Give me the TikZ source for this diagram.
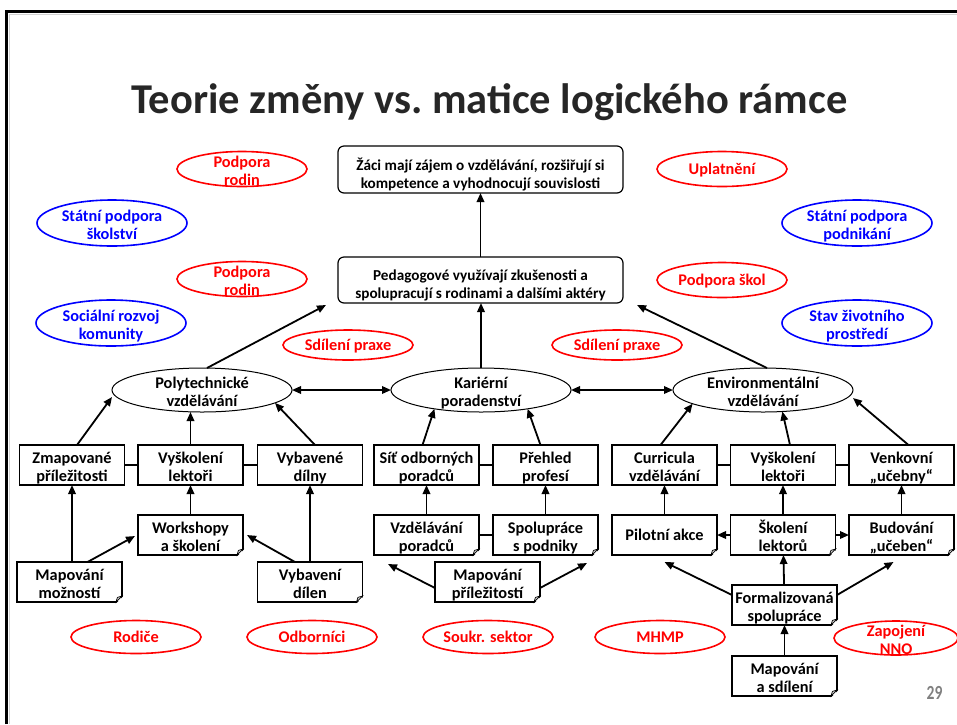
\documentclass[tikz,border=0pt]{standalone}
\usepackage{fontspec}
\setmainfont{Carlito}
\usetikzlibrary{shapes.geometric,arrows.meta}
\definecolor{accred}{RGB}{255,0,0}
\definecolor{accblue}{RGB}{0,0,255}
\definecolor{titlegray}{RGB}{38,38,38}
\definecolor{numgray}{RGB}{128,128,128}

% two-line texts sit on the baseline of their last line,
% so the box height is counted from there
\tikzset{
  txt/.style={font=\fontsize{16.3}{18.3}\selectfont\bfseries, align=center},
  one/.style={text height=12pt, text depth=0.5pt},
  two/.style={text height=36.6pt, text depth=3pt},
  box/.style={txt, two, draw, line width=1.2pt, rectangle, minimum width=105pt,
    minimum height=40pt, inner sep=0pt, outer sep=0pt},
  goalbox/.style={txt, font=\fontsize{15.2}{18.3}\selectfont\bfseries, text height=40.6pt, text depth=3pt,
    draw, line width=1.2pt, rounded corners=6pt, minimum width=285pt, minimum height=47pt,
    inner sep=0pt, outer sep=0pt},
  oval/.style={ellipse, draw, inner sep=0pt, outer sep=0pt},
  redoval/.style={oval, draw=accred, line width=1.6pt, minimum width=130pt, minimum height=35pt},
  blueoval/.style={oval, draw=accblue, line width=1.6pt, minimum width=150pt, minimum height=46pt},
  blackoval/.style={oval, draw=black, line width=1pt, minimum width=180pt, minimum height=44pt},
  redtxt/.style={txt, text=accred},
  bluetxt/.style={txt, two, text=accblue},
  arr/.style={-{Triangle[length=9pt,width=7.5pt]}, line width=1.8pt},
  dblarr/.style={{Triangle[length=9pt,width=7.5pt]}-{Triangle[length=9pt,width=7.5pt]}, line width=1.8pt},
  link/.style={line width=1.2pt},
}

\begin{document}
\begin{tikzpicture}[x=1pt,y=-1pt]
\useasboundingbox (0,0) rectangle (957,724);

% slide frame
\draw[gray!35, line width=1pt] (9.2,724) -- (9.2,14) -- (957,14);
\draw[line width=3.6pt] (6.6,724) -- (6.6,11.5) -- (957,11.5);

% title
\node[font=\fontsize{42.5}{50}\selectfont\bfseries, text=titlegray] (title) at (489.5,102) {Teorie změny vs.\ matice logického rámce};

% outcome boxes
\node[goalbox] (goal) at (480.5,169.5) {Žáci mají zájem o vzdělávání, rozšiřují si\\kompetence a vyhodnocují souvislosti};
\node[goalbox, minimum height=46pt] (ped) at (480.5,280) {Pedagogové využívají zkušenosti a\\spolupracují s rodinami a dalšími aktéry};

% external factors
\node[redoval, label={[redtxt,two]center:Podpora\\rodin}] (podr1) at (242,169) {};
\node[redoval, label={[redtxt,one]center:Uplatnění}] (upl) at (722,169) {};
\node[redoval, label={[redtxt,two]center:Podpora\\rodin}] (podr2) at (242,279) {};
\node[redoval, label={[redtxt,one]center:Podpora škol}] (podsk) at (722,280) {};
\node[redoval, minimum height=30pt, label={[redtxt,one]center:Sdílení praxe}] (sdp1) at (348,345) {};
\node[redoval, minimum height=30pt, label={[redtxt,one]center:Sdílení praxe}] (sdp2) at (617,345) {};
\node[redoval, minimum height=33pt, label={[redtxt,one]center:Rodiče}] (rod) at (136,637) {};
\node[redoval, minimum height=33pt, label={[redtxt,one]center:Odborníci}] (odb) at (312,637) {};
\node[redoval, minimum height=33pt, label={[redtxt,one]center:Soukr. sektor}] (sou) at (488,637) {};
\node[redoval, minimum height=33pt, label={[redtxt,one]center:MHMP}] (mhmp) at (660,637) {};
\node[redoval, minimum width=124pt, minimum height=34pt, label={[redtxt,two]center:Zapojení\\NNO}] (nno) at (896,638) {};

\node[blueoval, label={[bluetxt]center:Státní podpora\\školství}] (stsk) at (112,223) {};
\node[blueoval, label={[bluetxt]center:Sociální rozvoj\\komunity}] (soc) at (111,323) {};
\node[blueoval, label={[bluetxt]center:Státní podpora\\podnikání}] (stpod) at (857,223) {};
\node[blueoval, label={[bluetxt]center:Stav životního\\prostředí}] (stav) at (857,323) {};

% programme areas
\node[blackoval, label={[txt,two]center:Polytechnické\\vzdělávání}] (poly) at (202,390) {};
\node[blackoval, label={[txt,two]center:Kariérní\\poradenství}] (kar) at (481,390) {};
\node[blackoval, label={[txt,two]center:Environmentální\\vzdělávání}] (env) at (763,390) {};

% outputs
\node[box] (zmap) at (72,465) {Zmapované\\příležitosti};
\node[box] (vysk1) at (190.5,465) {Vyškolení\\lektoři};
\node[box] (vybd1) at (310,465) {Vybavené\\dílny};
\node[box] (sit) at (426.5,465) {Síť odborných\\poradců};
\node[box] (preh) at (545.5,465) {Přehled\\profesí};
\node[box] (curr) at (664.5,465) {Curricula\\vzdělávání};
\node[box] (vysk2) at (783,465) {Vyškolení\\lektoři};
\node[box] (venk) at (901.5,465) {Venkovní\\„učebny“};

% activities
\node[box] (wsh) at (190.5,535) {Workshopy\\a školení};
\node[box] (vzd) at (426.5,535) {Vzdělávání\\poradců};
\node[box] (spol) at (545.5,535) {Spolupráce\\s podniky};
\node[box, one] (pilot) at (664.5,535) {Pilotní akce};
\node[box] (skol) at (783,535) {Školení\\lektorů};
\node[box] (bud) at (901.5,535) {Budování\\„učeben“};
\node[box] (mapmoz) at (69.5,582) {Mapování\\možností};
\node[box] (vybd2) at (310,582) {Vybavení\\dílen};
\node[box] (mappr) at (487.5,582) {Mapování\\příležitostí};
\node[box] (form) at (784.5,605) {Formalizovaná\\spolupráce};
\node[box] (mapsd) at (784.5,676) {Mapování\\a sdílení};

% folded corners of the activity boxes
\foreach \n in {wsh,vzd,spol,pilot,skol,bud,mapmoz,vybd2,mappr,form,mapsd}{
  \fill[white] ([xshift=-6pt,yshift=-1.5pt]\n.south east) -- ([xshift=1.5pt,yshift=-1.5pt]\n.south east)
    -- ([xshift=1.5pt,yshift=6pt]\n.south east) -- cycle;
  \filldraw[fill=gray!30, line width=0.7pt] ([xshift=-6pt]\n.south east) -- ([yshift=6pt]\n.south east)
    -- ([xshift=-4.6pt,yshift=4.6pt]\n.south east) -- cycle;
}

% page number
\node[font=\fontsize{20}{20}\selectfont\bfseries, text=numgray, xscale=0.78] (pnum) at (934.5,693) {29};

% goal chain
\draw[arr] (ped) -- (goal);
\draw[arr] ([xshift=5pt]poly.north) -- ([xshift=-12pt,yshift=-2pt]ped.south west);
\draw[arr] (kar.north) -- (kar.north |- ped.south);
\draw[arr] ([xshift=4pt]env.north) -- ([xshift=14pt,yshift=-2pt]ped.south east);
\draw[dblarr] (poly.east) -- (kar.west);
\draw[dblarr] (kar.east) -- (env.west);

% polytechnic branch
\draw[link] (zmap) -- (vysk1) -- (vybd1);
\draw[arr] ([xshift=5pt]zmap.north) -- ([yshift=-7pt]poly.west);
\draw[arr] (vysk1.north) -- (vysk1.north |- poly.south);
\draw[arr] ([xshift=5pt]vybd1.north) -- (poly.-10);
\draw[arr] (wsh) -- (vysk1);
\draw[arr] (mapmoz.north -| zmap.south) -- (zmap.south);
\draw[arr] ([xshift=18pt]mapmoz.north) -- ([xshift=-3pt,yshift=-1pt]wsh.west);
\draw[arr] (vybd2.north) -- (vybd1.south);
\draw[arr] ([xshift=-15pt]vybd2.north) -- ([xshift=4pt]wsh.east);

% career guidance branch
\draw[link] (sit) -- (preh);
\draw[link] (vzd) -- (spol);
\draw[arr] ([xshift=-4pt]sit.north) -- (kar.-158);
\draw[arr] ([xshift=-5pt]preh.north) -- (kar.-22);
\draw[arr] (vzd) -- (sit);
\draw[arr] (spol) -- (preh);
\draw[arr] ([yshift=-6pt]mappr.west) -- ([xshift=14pt,yshift=-9pt]vzd.south west);
\draw[arr] ([yshift=-6pt]mappr.east) -- ([xshift=-11pt,yshift=-8pt]spol.south east);

% environmental branch
\draw[link] (curr) -- (vysk2) -- (venk);
\draw[arr] ([xshift=-4pt]curr.north) -- (env.-169);
\draw[arr] ([xshift=7pt]vysk2.north) -- (env.-48);
\draw[arr] ([xshift=7pt]venk.north) -- ([yshift=-8pt]env.east);
\draw[arr] (pilot) -- (curr);
\draw[arr] (skol) -- (vysk2);
\draw[arr] (bud) -- (venk);
\draw[arr] (skol) -- (pilot);
\draw[arr] (skol) -- (bud);
\draw[arr] (form) -- (skol);
\draw[arr] ([yshift=10pt]form.west) -- ([yshift=-7pt]pilot.south);
\draw[arr] ([yshift=10pt]form.east) -- ([xshift=-8pt,yshift=-7pt]bud.south);
\draw[arr] (mapsd) -- (form);
\end{tikzpicture}
\end{document}
